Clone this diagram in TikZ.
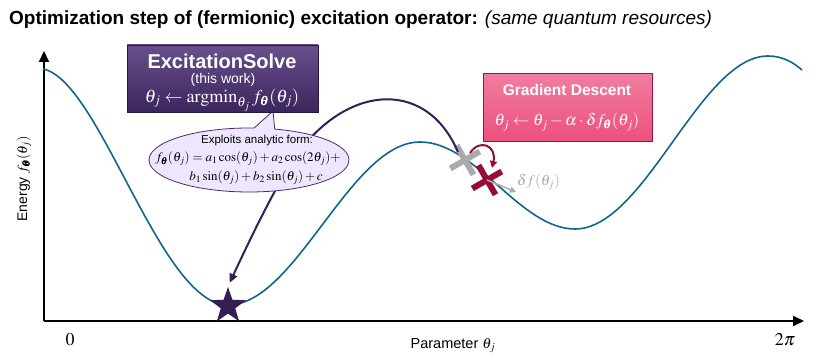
\documentclass[tikz,border=0pt]{standalone}
\usepackage{amsmath,amssymb}
\usepackage{mathptmx}
\usepackage{fontspec}
\setmainfont{Liberation Sans}
\usetikzlibrary{shapes,arrows.meta,positioning,calc}

\definecolor{curveblue}{RGB}{14,104,138}
\definecolor{solvedark}{RGB}{52,30,84}
\definecolor{solvetop}{RGB}{104,80,140}
\definecolor{solveedge}{RGB}{40,22,66}
\definecolor{bubblefill}{RGB}{239,229,252}
\definecolor{bubbleedge}{RGB}{72,44,112}
\definecolor{gdtop}{RGB}{240,125,160}
\definecolor{gdmid}{RGB}{226,4,72}
\definecolor{gdbottom}{RGB}{236,80,125}
\definecolor{gdedge}{RGB}{160,20,60}
\definecolor{stepred}{RGB}{150,12,52}
\definecolor{oldgray}{RGB}{170,170,170}

\newcommand{\btheta}{\pmb{\theta}}

\begin{document}
\begin{tikzpicture}
[
  x=1pt, y=-1pt,
  every node/.style={inner sep=1pt, align=center},
  solvebox/.style={rectangle, draw=solveedge, line width=0.8pt, top color=solvetop, middle color=solvedark, bottom color=solvedark!85!solvetop, minimum width=191pt, minimum height=67pt, inner sep=0pt},
  gdbox/.style={rectangle, draw=gdedge, line width=0.8pt, top color=gdtop, middle color=gdmid, bottom color=gdbottom, minimum width=169pt, minimum height=68pt, inner sep=0pt},
  boxtext/.style={text=white, inner sep=0pt},
  marker/.style={cross out, draw, line width=6pt, minimum size=18pt, inner sep=0pt, rotate=-15},
  axis/.style={line width=2pt, -{Triangle[length=11pt,width=10pt]}}
]

\useasboundingbox (0,0) rectangle (830,363);

\node[anchor=west, font=\fontsize{19}{21}\selectfont] (title) at (8,20) {\textbf{Optimization step of (fermionic) excitation operator:} \textit{(same quantum resources)}};

\coordinate (origin) at (44,321);
\coordinate (ytop) at (44,51);
\coordinate (xend) at (804,321);
\draw[axis] (origin) -- (ytop);
\draw[axis] (origin) -- (xend);

\node[font=\fontsize{18}{20}\selectfont] (zero) at (70,340) {$0$};
\node[font=\fontsize{18}{20}\selectfont] (twopi) at (785,340) {$2\pi$};
\node[font=\fontsize{14.5}{16}\selectfont] (xlabel) at (453,346) {Parameter $\theta_j$};
\node[font=\fontsize{14}{16}\selectfont, rotate=90] (ylabel) at (24,179) {Energy $f_{\btheta}(\theta_j)$};

\draw[curveblue, line width=1.6pt] (43,69) .. controls (100,80) and (160,305) .. (228,305)
  .. controls (296,305) and (350,142) .. (420,142)
  .. controls (476,142) and (520,229) .. (575,229)
  .. controls (645,229) and (700,56) .. (768,56)
  .. controls (783,56) and (794,63) .. (802,70);

\node[star, star points=5, star point ratio=2.5, fill=solvedark, minimum size=38pt, inner sep=0pt] (star) at (228,306) {};
\node[marker, draw=oldgray] (old) at (465,160) {};
\node[marker, draw=stepred] (new) at (487,180) {};

\draw[solvedark, line width=2pt, -{Triangle[length=9pt,width=8pt]}, shorten >=4pt] ($(old)+(-7,-8)$) .. controls (425,75) and (340,85) .. (290,165) .. controls (270,197) and (245,250) .. (star.north);

\node[ellipse callout, draw=bubbleedge, fill=bubblefill, line width=0.8pt, minimum width=200pt, minimum height=64pt, inner sep=0pt, callout absolute pointer={(273,111)}, callout pointer arc=12] (bubble) at (249,160) {};
\node[font=\fontsize{11.5}{13}\selectfont, inner sep=0pt] (exploits) at (257,141) {Exploits analytic form:};
\node[font=\fontsize{13}{15}\selectfont, inner sep=0pt] (formA) at (248,159) {$f_{\btheta}(\theta_j) = a_1\cos(\theta_j) + a_2\cos(2\theta_j) +$};
\node[font=\fontsize{13}{15}\selectfont, inner sep=0pt] (formB) at (256,178) {$b_1\sin(\theta_j) + b_2\sin(\theta_j) + c$};

\node[solvebox] (solve) at (222.5,78.5) {};
\node[boxtext, font=\fontsize{20}{22}\selectfont\bfseries] (solvename) at (222,61) {ExcitationSolve};
\node[boxtext, font=\fontsize{14}{16}\selectfont] (thiswork) at (223,80) {(this work)};
\node[boxtext, font=\fontsize{18}{20}\selectfont] (argmin) at (222,100) {$\theta_j \leftarrow \operatorname{argmin}_{\theta_j} f_{\btheta}(\theta_j)$};

\node[gdbox] (gd) at (567.5,107.5) {};
\node[boxtext, font=\fontsize{15.5}{17}\selectfont\bfseries] (gdname) at (567,90) {Gradient Descent};
\node[boxtext, font=\fontsize{16.5}{18}\selectfont] (gdrule) at (567,122) {$\theta_j \leftarrow \theta_j - \alpha\cdot\delta f_{\btheta}(\theta_j)$};

\draw[stepred, line width=2pt, -{Triangle[length=7pt,width=7pt]}] ($(old)+(5,-7)$) .. controls (480,138) and (497,146) .. ($(new)+(5,-12)$);

\coordinate (gradtip) at (516,192);
\draw[oldgray, line width=1.5pt, -{Triangle[length=6pt,width=6pt]}] (new.center) -- (gradtip);
\node[oldgray, anchor=west, font=\fontsize{15}{17}\selectfont] (gradlabel) at (516,182) {$\delta f(\theta_j)$};

\end{tikzpicture}
\end{document}
